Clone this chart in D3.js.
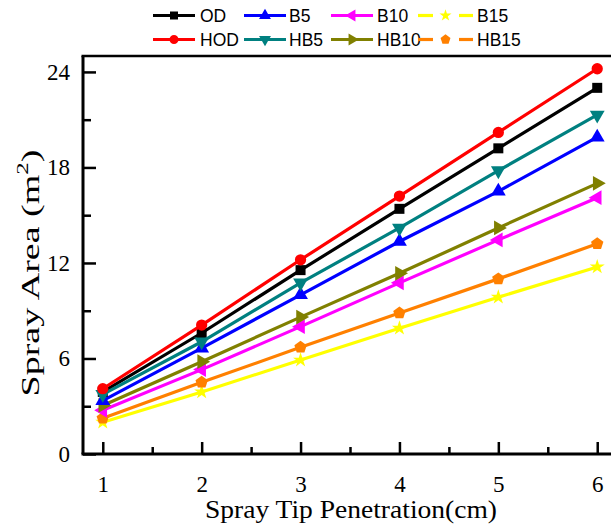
<!DOCTYPE html>
<html>
<head>
<meta charset="utf-8">
<script src="https://cdn.jsdelivr.net/npm/d3@7"></script>
<style>
  html, body { margin: 0; padding: 0; background: #fff; }
  svg { display: block; }
</style>
</head>
<body>
<div id="chart"></div>
<script>
// ---- data ----
const xValues = [1, 2, 3, 4, 5, 6];
const OD   = [3.9, 7.6, 11.55, 15.4, 19.2, 23.0];
const HOD  = [4.1, 8.1, 12.2, 16.2, 20.2, 24.2];
const B5   = [3.35, 6.65, 10.0, 13.35, 16.5, 19.9];
const HB5  = [3.75, 7.05, 10.75, 14.2, 17.8, 21.3];
const B10  = [2.75, 5.3, 8.0, 10.75, 13.45, 16.1];
const HB10 = [3.05, 5.8, 8.6, 11.35, 14.2, 17.0];
const B15  = [2.0, 3.9, 5.9, 7.9, 9.85, 11.75];
const HB15 = [2.25, 4.5, 6.7, 8.85, 11.0, 13.2];
const seriesNames = ["OD", "B5", "B10", "B15", "HOD", "HB5", "HB10", "HB15"];
const xTickLabels = ["1", "2", "3", "4", "5", "6"];
const yTickLabels = ["0", "6", "12", "18", "24"];

(function () {
const seriesData = {OD, HOD, B5, HB5, B10, HB10, B15, HB15};
const colors = {OD:"#000000", HOD:"#ff0000", B5:"#0000ff", HB5:"#008080",
                B10:"#ff00ff", HB10:"#808000", B15:"#ffff00", HB15:"#ff8000"};
const drawOrder = ["B15","HB15","B10","HB10","B5","OD","HB5","HOD"];

const W = 611, H = 527;
const svg = d3.select("#chart").append("svg").attr("width", W).attr("height", H);

const pLeft = 83, pRight = 617, pTop = 56, pBottom = 454;
const x = d3.scaleLinear().domain([0.8, 6.2]).range([pLeft, pRight]);
const y = d3.scaleLinear().domain([0, 25]).range([pBottom, pTop]);

function pentagon(r) {
  const pts = d3.range(5).map(i => {
    const a = -Math.PI / 2 + i * 2 * Math.PI / 5;
    return [r * Math.cos(a), r * Math.sin(a)];
  });
  return "M" + pts.map(p => p.join(",")).join("L") + "Z";
}
const markerDefs = {
  OD:   {path: d3.symbol(d3.symbolSquare, 100)(), rot: 0},
  HOD:  {path: d3.symbol(d3.symbolCircle, 100)(), rot: 0},
  B5:   {path: d3.symbol(d3.symbolTriangle, 95)(), rot: 0},
  HB5:  {path: d3.symbol(d3.symbolTriangle, 95)(), rot: 180},
  B10:  {path: d3.symbol(d3.symbolTriangle, 95)(), rot: -90},
  HB10: {path: d3.symbol(d3.symbolTriangle, 95)(), rot: 90},
  B15:  {path: d3.symbol(d3.symbolStar, 70)(), rot: 0},
  HB15: {path: pentagon(6.5), rot: 0}
};

// ---- axes ----
const axisG = svg.append("g");
axisG.append("line").attr("x1", pLeft).attr("x2", pLeft).attr("y1", pTop).attr("y2", pBottom)
  .attr("stroke", "#000").attr("stroke-width", 3);
axisG.append("line").attr("x1", pLeft - 1.5).attr("x2", W).attr("y1", pBottom).attr("y2", pBottom)
  .attr("stroke", "#000").attr("stroke-width", 3);
axisG.append("line").attr("x1", pLeft - 1.5).attr("x2", W).attr("y1", pTop).attr("y2", pTop)
  .attr("stroke", "#000").attr("stroke-width", 2.5);

const xMajor = xTickLabels.map(Number);
const xMinor = [1.5, 2.5, 3.5, 4.5, 5.5];
const gx = svg.append("g").attr("transform", `translate(0,${pBottom})`)
  .call(d3.axisBottom(x).tickValues(xMajor).tickFormat((d, i) => xTickLabels[i]).tickSize(-12).tickPadding(22));
gx.select(".domain").remove();
gx.selectAll(".tick line").attr("stroke-width", 2.5);
gx.selectAll(".tick text").attr("font-family", "'Liberation Serif', 'Times New Roman', serif")
  .attr("font-size", 23).attr("fill", "#000");
const gxm = svg.append("g").attr("transform", `translate(0,${pBottom})`)
  .call(d3.axisBottom(x).tickValues(xMinor).tickFormat("").tickSize(-7));
gxm.select(".domain").remove();
gxm.selectAll(".tick line").attr("stroke-width", 2.5);

const yMajor = yTickLabels.map(Number);
const yMinor = [3, 9, 15, 21];
const gy = svg.append("g").attr("transform", `translate(${pLeft},0)`)
  .call(d3.axisLeft(y).tickValues(yMajor).tickFormat((d, i) => yTickLabels[i]).tickSize(-13).tickPadding(13));
gy.select(".domain").remove();
gy.selectAll(".tick line").attr("stroke-width", 2.5);
gy.selectAll(".tick text").attr("font-family", "'Liberation Serif', 'Times New Roman', serif")
  .attr("font-size", 23).attr("fill", "#000");
const gym = svg.append("g").attr("transform", `translate(${pLeft},0)`)
  .call(d3.axisLeft(y).tickValues(yMinor).tickFormat("").tickSize(-8));
gym.select(".domain").remove();
gym.selectAll(".tick line").attr("stroke-width", 2.5);

svg.append("text").attr("x", 351).attr("y", 518).attr("text-anchor", "middle")
  .attr("font-family", "'Liberation Serif', 'Times New Roman', serif").attr("font-size", 26)
  .attr("textLength", 292).attr("lengthAdjust", "spacingAndGlyphs")
  .text("Spray Tip Penetration(cm)");

const yt = svg.append("text").attr("transform", "translate(39,273) rotate(-90)")
  .attr("text-anchor", "middle")
  .attr("font-family", "'Liberation Serif', 'Times New Roman', serif").attr("font-size", 26)
  .attr("textLength", 247).attr("lengthAdjust", "spacingAndGlyphs");
yt.append("tspan").text("Spray Area (m");
yt.append("tspan").attr("font-size", 17).attr("dy", -11).text("2");
yt.append("tspan").attr("dy", 11).text(")");

// ---- series ----
const line = d3.line().x((d, i) => x(xValues[i])).y(d => y(d));
const plot = svg.append("g");
drawOrder.forEach(name => {
  const vals = seriesData[name];
  const g = plot.append("g");
  g.append("path").datum(vals).attr("d", line).attr("fill", "none")
    .attr("stroke", colors[name]).attr("stroke-width", 3.2);
  g.selectAll("path.m").data(vals).enter().append("path").attr("class", "m")
    .attr("d", markerDefs[name].path)
    .attr("transform", (d, i) => `translate(${x(xValues[i])},${y(d)}) rotate(${markerDefs[name].rot})`)
    .attr("fill", colors[name]);
});

// ---- legend ----
const legendX = [153, 244, 331, 418];
const legendTextX = [200, 289, 377, 477];
const legendY = [15.5, 39.5];
const leg = svg.append("g");
seriesNames.forEach((name, k) => {
  const col = k % 4, row = Math.floor(k / 4);
  const x0 = legendX[col];
  const yy = legendY[row];
  const dashed = (name === "B15" || name === "HB15");
  const x1 = dashed ? 473 : x0 + 42;
  const mx = (x0 + x1) / 2;
  if (dashed) {
    leg.append("line").attr("x1", x0).attr("x2", x0 + 15).attr("y1", yy).attr("y2", yy)
      .attr("stroke", colors[name]).attr("stroke-width", 3.2);
    leg.append("line").attr("x1", x1 - 14).attr("x2", x1).attr("y1", yy).attr("y2", yy)
      .attr("stroke", colors[name]).attr("stroke-width", 3.2);
  } else {
    leg.append("line").attr("x1", x0).attr("x2", x1).attr("y1", yy).attr("y2", yy)
      .attr("stroke", colors[name]).attr("stroke-width", 3.2);
  }
  leg.append("path").attr("d", markerDefs[name].path)
    .attr("transform", `translate(${mx},${yy}) rotate(${markerDefs[name].rot}) scale(0.8)`)
    .attr("fill", colors[name]);
  leg.append("text").attr("x", legendTextX[col]).attr("y", yy + 6.3)
    .attr("font-family", "'Liberation Sans', Arial, sans-serif").attr("font-size", 17.5)
    .attr("fill", "#000").text(name);
});
})();
</script>
</body>
</html>
